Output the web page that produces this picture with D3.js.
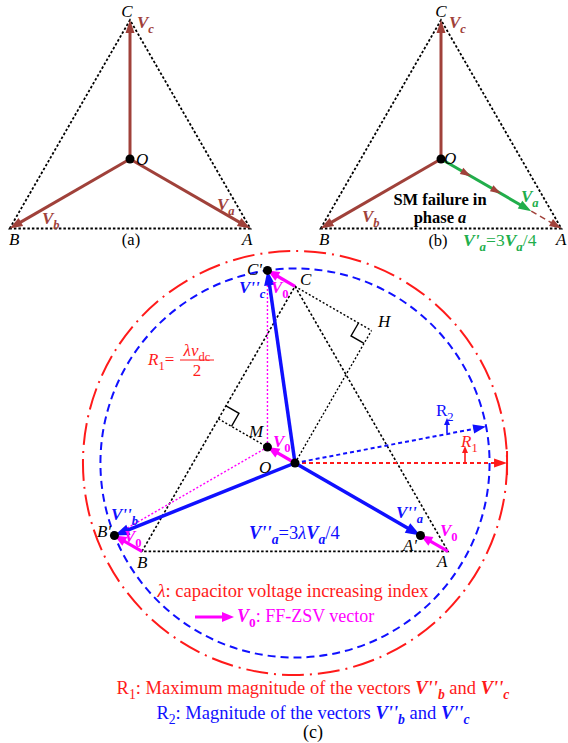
<!DOCTYPE html>
<html><head><meta charset="utf-8">
<script src="https://cdn.jsdelivr.net/npm/d3@7"></script>
<style>
body{margin:0;background:#fff}
svg{display:block}
text{font-family:"Liberation Serif","Times New Roman",serif}
</style>
</head><body>
<svg id="fig" width="568" height="743"></svg>
<script>
// Phase vectors: angle (deg, counter-clockwise from +x) and per-unit magnitude
const phases = ["a", "b", "c"];
const vertexNames = ["A", "B", "C"];
const phaseAngles = [-30, 210, 90];
const phaseMagnitudes = [1, 1, 1];
// Phase a after an SM failure keeps 3/4 of its magnitude; arrow marks along Va
const faultFactor = 0.75;
const faultSteps = [0.25, 0.5];
// Zero-sequence vector V0 (FF-ZSV)
const v0Angle = 150;
const v0Magnitude = 0.18;
// Circle R1 (per unit of the triangle radius) and direction of the R1 / R2 arrows
const r1Radius = 1.2;
const r1ArrowAngle = 0;
const r2ArrowAngle = 10.8;

const C_BROWN = "#a0413a", C_GREEN = "#21ae4b", C_BLUE = "#1010ff",
      C_MAG = "#ff00ff", C_RED = "#ff1a1a";

const svg = d3.select("#fig");

function panelScales(cx, cy, R) {
  return {
    x: d3.scaleLinear().domain([-1, 1]).range([cx - R, cx + R]),
    y: d3.scaleLinear().domain([-1, 1]).range([cy + R, cy - R])
  };
}
const rad = d => d * Math.PI / 180;
function vec(angle, mag) { return [mag * Math.cos(rad(angle)), mag * Math.sin(rad(angle))]; }
const add = (p, q) => [p[0] + q[0], p[1] + q[1]];
const scl = (p, k) => [p[0] * k, p[1] * k];
function px(s, p) { return [s.x(p[0]), s.y(p[1])]; }

function arrow(g, a, b, o) {
  const [x1, y1] = a, [x2, y2] = b;
  const dx = x2 - x1, dy = y2 - y1, L = Math.hypot(dx, dy), ux = dx / L, uy = dy / L;
  const hl = o.hl || 12, hw = o.hw || 9;
  if (!o.noLine) {
    const ln = g.append("line")
      .attr("x1", x1).attr("y1", y1)
      .attr("x2", x2 - ux * hl * 0.6).attr("y2", y2 - uy * hl * 0.6)
      .attr("stroke", o.lineColor || o.color).attr("stroke-width", o.w || 3);
    if (o.dash) ln.attr("stroke-dasharray", o.dash);
  }
  const bx = x2 - ux * hl, by = y2 - uy * hl;
  const p = d3.path();
  p.moveTo(x2, y2);
  p.lineTo(bx - uy * hw / 2, by + ux * hw / 2);
  p.lineTo(bx + uy * hw / 2, by - ux * hw / 2);
  p.closePath();
  g.append("path").attr("d", p.toString()).attr("fill", o.color);
}

function dotted(g, a, b, color, w, dash) {
  g.append("line").attr("x1", a[0]).attr("y1", a[1]).attr("x2", b[0]).attr("y2", b[1])
    .attr("stroke", color).attr("stroke-width", w).attr("stroke-dasharray", dash);
}

// rich text: segments [text, flags]; flags: b bold, i italic, _ subscript
function rich(g, x, y, segs, o) {
  const size = o.size || 16;
  const t = g.append("text").attr("x", x).attr("y", y)
    .attr("fill", o.fill || "#000").attr("font-size", size)
    .attr("text-anchor", o.anchor || "start");
  let shift = 0;
  segs.forEach(([s, f = ""]) => {
    const ts = t.append("tspan").text(s);
    const target = f.includes("_") ? Math.round(size * 0.28) : 0;
    if (target !== shift) { ts.attr("dy", target - shift); shift = target; }
    if (f.includes("_")) ts.attr("font-size", size * 0.74);
    if (f.includes("i")) ts.attr("font-style", "italic");
    if (f.includes("b")) ts.attr("font-weight", "bold");
  });
  return t;
}

function dot(g, p, r) { g.append("circle").attr("cx", p[0]).attr("cy", p[1]).attr("r", r).attr("fill", "#000"); }

// ---------- panels (a) and (b): healthy and faulty phase vectors ----------
function basePanel(cx, cy, R) {
  const s = panelScales(cx, cy, R);
  const g = svg.append("g");
  const verts = phaseAngles.map((a, i) => px(s, vec(a, phaseMagnitudes[i])));
  const O = px(s, [0, 0]);
  g.append("path")
    .attr("d", d3.line()([verts[1], verts[2], verts[0]]) + "Z")
    .attr("fill", "none").attr("stroke", "#000").attr("stroke-width", 1.8)
    .attr("stroke-dasharray", "2.5,2");
  return { s, g, verts, O };
}

// (a)
{
  const { g, verts, O } = basePanel(130, 159, 139);
  phases.forEach((ph, i) => arrow(g, O, verts[i], { color: C_BROWN, w: 3, hl: 13, hw: 9 }));
  dot(g, O, 4.5);
  rich(g, 127, 17, [["C", "i"]], { anchor: "middle", size: 17 });
  rich(g, 137, 28, [["V", "bi"], ["c", "bi_"]], { fill: C_BROWN, size: 17 });
  rich(g, 136, 165, [["O", "i"]], { size: 17 });
  rich(g, 217, 210, [["V", "bi"], ["a", "bi_"]], { fill: C_BROWN, size: 17 });
  rich(g, 42, 224, [["V", "bi"], ["b", "bi_"]], { fill: C_BROWN, size: 17 });
  rich(g, 9, 245, [["B", "i"]], { size: 17 });
  rich(g, 242, 245, [["A", "i"]], { size: 17 });
  rich(g, 131, 245, [["(a)"]], { anchor: "middle", size: 16.5 });
}

// (b)
{
  const { s, g, verts, O } = basePanel(441, 159, 139);
  [1, 2].forEach(i => arrow(g, O, verts[i], { color: C_BROWN, w: 3, hl: 13, hw: 9 }));
  const aUnit = vec(phaseAngles[0], phaseMagnitudes[0]);
  const aFault = px(s, scl(aUnit, faultFactor));
  // remaining part of the healthy Va
  arrow(g, aFault, verts[0], { color: C_BROWN, w: 1.5, hl: 12, hw: 8, dash: "6,4" });
  arrow(g, O, aFault, { color: C_GREEN, w: 3, hl: 13, hw: 9 });
  faultSteps.forEach(k => {
    const p1 = px(s, scl(aUnit, k - 0.05)), p2 = px(s, scl(aUnit, k));
    arrow(g, p1, p2, { color: C_BROWN, hl: 11, hw: 7, noLine: true });
  });
  dot(g, O, 4.5);
  rich(g, 441, 17, [["C", "i"]], { anchor: "middle", size: 17 });
  rich(g, 449, 28, [["V", "bi"], ["c", "bi_"]], { fill: C_BROWN, size: 17 });
  rich(g, 444, 164, [["O", "i"]], { size: 17 });
  rich(g, 521, 202, [["V", "bi"], ["a", "bi_"]], { fill: C_GREEN, size: 17 });
  rich(g, 362, 222, [["V", "bi"], ["b", "bi_"]], { fill: C_BROWN, size: 17 });
  rich(g, 440, 204.5, [["SM failure in", "b"]], { anchor: "middle", size: 16.5 });
  rich(g, 440, 223, [["phase ", "b"], ["a", "bi"]], { anchor: "middle", size: 16.5 });
  rich(g, 319, 245, [["B", "i"]], { size: 17 });
  rich(g, 556, 245, [["A", "i"]], { size: 17 });
  rich(g, 438, 246, [["(b)"]], { anchor: "middle", size: 16.5 });
  rich(g, 463, 246, [["V'", "bi"], ["a", "bi_"], ["=3"], ["V", "bi"], ["a", "bi_"], ["/4"]], { fill: C_GREEN, size: 17.5 });
}

// ---------- panel (c): compensation with the FF-ZSV vector ----------
{
  const s = panelScales(295, 463, 176.7);
  const g = svg.append("g");
  const O = [0, 0];
  const V = phaseAngles.map((a, i) => vec(a, phaseMagnitudes[i]));
  const V0 = vec(v0Angle, v0Magnitude);
  const Vp = V.map(v => add(v, V0));          // A', B', C'
  const M = V0;
  const r2Radius = Math.hypot(Vp[1][0], Vp[1][1]);
  const P = p => px(s, p);
  const unitPx = s.x(1) - s.x(0);

  // circles R1 (dash-dot) and R2 (dashed)
  g.append("circle").attr("cx", s.x(0)).attr("cy", s.y(0)).attr("r", unitPx * r1Radius)
    .attr("fill", "none").attr("stroke", C_RED).attr("stroke-width", 2)
    .attr("stroke-dasharray", "22,6,2,6");
  g.append("circle").attr("cx", s.x(0)).attr("cy", s.y(0)).attr("r", unitPx * r2Radius)
    .attr("fill", "none").attr("stroke", C_BLUE).attr("stroke-width", 2)
    .attr("stroke-dasharray", "8,5");
  // end mark of the R1 radius
  {
    const e = P(vec(r1ArrowAngle, r1Radius));
    g.append("line").attr("x1", e[0]).attr("y1", e[1] - 12).attr("x2", e[0]).attr("y2", e[1] + 12)
      .attr("stroke", C_RED).attr("stroke-width", 2);
  }

  // triangle ABC
  g.append("path").attr("d", d3.line()([P(V[1]), P(V[2]), P(V[0])]) + "Z")
    .attr("fill", "none").attr("stroke", "#000").attr("stroke-width", 1.6)
    .attr("stroke-dasharray", "2.5,2");

  // C projected on the line through O perpendicular to V0
  const u = vec(v0Angle - 90, 1);
  const hk = V[2][0] * u[0] + V[2][1] * u[1];
  const H = scl(u, hk);
  const midBC = scl(add(V[1], V[2]), 0.5);
  dotted(g, P(O), P(H), "#000", 1.4, "2,2");
  dotted(g, P(V[2]), P(H), "#000", 1.4, "2,2");
  dotted(g, P(midBC), P(O), "#000", 1.4, "2,2");

  // right-angle marks
  function rightAngle(corner, d1, d2, size) {
    const c = P(corner);
    const a = P(add(corner, scl(d1, size))), b = P(add(corner, scl(d2, size)));
    const m = [a[0] + b[0] - c[0], a[1] + b[1] - c[1]];
    g.append("path").attr("d", d3.line()([a, m, b])).attr("fill", "none")
      .attr("stroke", "#000").attr("stroke-width", 1.4);
  }
  const norm = p => { const L = Math.hypot(p[0], p[1]); return [p[0] / L, p[1] / L]; };
  const sq = 15 / unitPx;
  rightAngle(H, norm(add(V[2], scl(H, -1))), norm(scl(H, -1)), sq);
  rightAngle(midBC, norm(add(V[2], scl(V[1], -1))), norm(scl(midBC, -1)), sq);

  // dotted lines from the shifted neutral M
  dotted(g, P(M), P(Vp[2]), C_MAG, 1.4, "2,2");
  dotted(g, P(M), P(Vp[1]), C_MAG, 1.4, "2,2");

  // R1 / R2 radius arrows
  arrow(g, P(O), P(vec(r1ArrowAngle, r1Radius)), { color: C_RED, w: 2, dash: "4,3", hl: 13, hw: 9 });
  arrow(g, P(O), P(vec(r2ArrowAngle, r2Radius)), { color: C_BLUE, w: 2, dash: "4,3", hl: 13, hw: 9 });
  arrow(g, [465, 462], [465, 446], { color: C_RED, w: 1.6, hl: 7, hw: 6 });
  arrow(g, [447, 433], [447, 418], { color: C_BLUE, w: 1.6, hl: 7, hw: 6 });

  // resulting vectors V''a, V''b, V''c
  Vp.forEach(v => arrow(g, P(O), P(v), { color: C_BLUE, w: 3.5, hl: 15, hw: 11 }));
  // V0 added at the neutral and at each vertex
  [O, ...V].forEach(p => arrow(g, P(p), P(add(p, V0)), { color: C_MAG, w: 3.2, hl: 12, hw: 10 }));

  [O, M, ...Vp].forEach(p => dot(g, P(p), 4.5));

  // labels
  rich(g, 262, 275, [["C'", "i"]], { anchor: "end", size: 17 });
  rich(g, 300, 285, [["C", "i"]], { size: 17 });
  rich(g, 239, 293, [["V''", "bi"], ["c", "bi_"]], { fill: C_BLUE, size: 17 });
  rich(g, 271, 293, [["V", "bi"], ["0", "b_"]], { fill: C_MAG, size: 17 });
  rich(g, 378, 327, [["H", "i"]], { size: 17 });
  rich(g, 249, 437, [["M", "i"]], { size: 17 });
  rich(g, 273, 447, [["V", "bi"], ["0", "b_"]], { fill: C_MAG, size: 17 });
  rich(g, 259, 473, [["O", "i"]], { size: 17 });
  rich(g, 111, 520, [["V''", "bi"], ["b", "bi_"]], { fill: C_BLUE, size: 17 });
  rich(g, 111, 537, [["B'", "i"]], { anchor: "end", size: 17 });
  rich(g, 124, 542, [["V", "bi"], ["0", "b_"]], { fill: C_MAG, size: 17 });
  rich(g, 137, 568, [["B", "i"]], { size: 17 });
  rich(g, 396, 518, [["V''", "bi"], ["a", "bi_"]], { fill: C_BLUE, size: 17 });
  rich(g, 417, 551, [["A'", "i"]], { anchor: "end", size: 17 });
  rich(g, 440, 536, [["V", "bi"], ["0", "b_"]], { fill: C_MAG, size: 17 });
  rich(g, 437, 567, [["A", "i"]], { size: 17 });
  rich(g, 249, 539, [["V''", "bi"], ["a", "bi_"], ["=3"], ["λ", "i"], ["V", "bi"], ["a", "bi_"], ["/4"]], { fill: C_BLUE, size: 18.5 });

  // R1 = λ v_dc / 2
  rich(g, 148, 365, [["R", "i"], ["1", "_"], ["="]], { fill: C_RED, size: 17 });
  rich(g, 197, 356, [["λv", "i"], ["dc", "_"]], { fill: C_RED, anchor: "middle", size: 17 });
  g.append("line").attr("x1", 180).attr("x2", 214).attr("y1", 360).attr("y2", 360)
    .attr("stroke", C_RED).attr("stroke-width", 1);
  rich(g, 197, 376, [["2"]], { fill: C_RED, anchor: "middle", size: 17 });

  rich(g, 436, 416, [["R"], ["2", "_"]], { fill: C_BLUE, size: 17 });
  rich(g, 461, 447, [["R", "i"], ["1", "_"]], { fill: C_RED, size: 17 });

  // notes
  rich(g, 293, 597, [["λ", "i"], [": capacitor voltage increasing index"]], { fill: C_RED, anchor: "middle", size: 18.5 });
  arrow(g, [195, 617], [234, 617], { color: C_MAG, w: 3, hl: 12, hw: 10 });
  rich(g, 237, 622, [["V", "bi"], ["0", "b_"], [": FF-ZSV vector"]], { fill: C_MAG, size: 18 });
  rich(g, 313, 694, [["R"], ["1", "_"], [": Maximum magnitude of the vectors "], ["V''", "bi"], ["b", "bi_"], [" and "], ["V''", "bi"], ["c", "bi_"]], { fill: C_RED, anchor: "middle", size: 18.5 });
  rich(g, 313, 719, [["R"], ["2", "_"], [": Magnitude of the vectors "], ["V''", "bi"], ["b", "bi_"], [" and "], ["V''", "bi"], ["c", "bi_"]], { fill: C_BLUE, anchor: "middle", size: 18.5 });
  rich(g, 313, 738, [["(c)"]], { anchor: "middle", size: 18 });
}
</script>
</body></html>
